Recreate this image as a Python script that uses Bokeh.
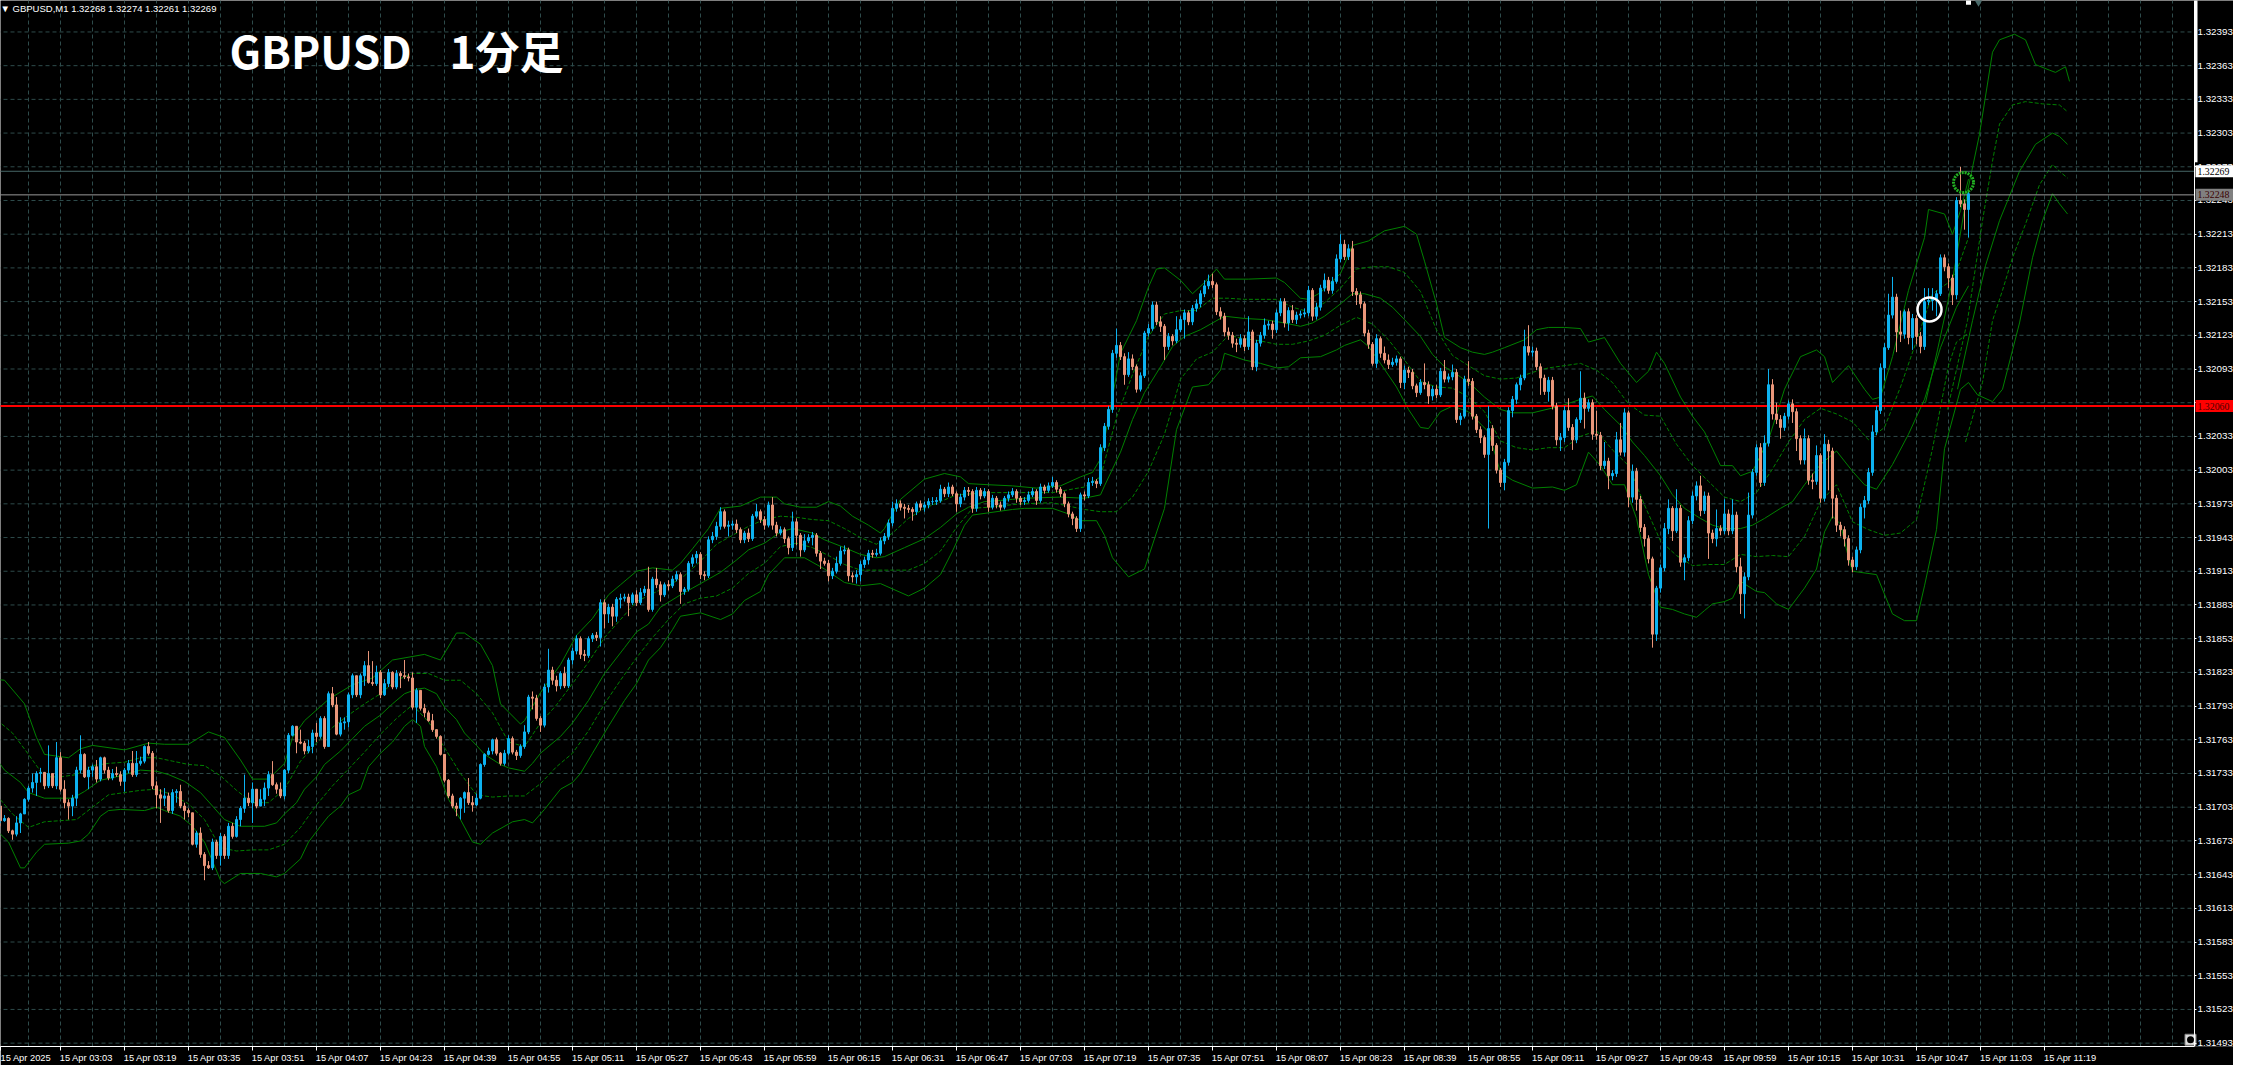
from bokeh.plotting import figure
from bokeh.models import Range1d, FixedTicker, Label, NumeralTickFormatter, ColumnDataSource, LinearAxis
from bokeh.embed import file_html
from bokeh.resources import INLINE

# ---------------- data (prices in 1e-5 units, i.e. 131704 = 1.31704) ----------------
FIRST_OPEN = 131689
CLOSES = [131704,131691,131693,131682,131679,131689,131697,131710,131720,131725,
131733,131734,131722,131733,131722,131747,131719,131707,131704,131711,
131736,131750,131730,131736,131739,131728,131747,131736,131729,131733,
131732,131726,131736,131742,131732,131742,131744,131757,131751,131722,
131714,131711,131713,131700,131716,131717,131704,131700,131698,131670,
131680,131661,131651,131649,131672,131660,131677,131660,131686,131677,
131692,131702,131711,131707,131719,131704,131710,131720,131732,131723,
131719,131713,131736,131767,131775,131761,131760,131753,131757,131769,
131766,131782,131757,131804,131794,131768,131778,131779,131803,131820,
131803,131820,131829,131814,131813,131823,131803,131813,131823,131810,
131822,131820,131819,131818,131792,131807,131791,131787,131780,131772,
131766,131750,131727,131713,131704,131702,131711,131716,131707,131705,
131711,131741,131750,131753,131763,131751,131742,131751,131764,131752,
131749,131757,131770,131801,131800,131782,131776,131810,131825,131816,
131811,131822,131811,131834,131842,131853,131839,131838,131853,131856,
131854,131885,131875,131881,131873,131888,131889,131890,131885,131892,
131885,131894,131897,131879,131906,131901,131892,131901,131900,131906,
131910,131895,131897,131920,131925,131928,131910,131909,131941,131944,
131953,131966,131953,131954,131955,131950,131941,131947,131942,131962,
131966,131959,131954,131972,131954,131947,131950,131942,131934,131957,
131945,131932,131940,131943,131945,131929,131922,131920,131909,131913,
131920,131931,131932,131909,131908,131910,131919,131923,131929,131928,
131929,131940,131944,131956,131969,131973,131970,131969,131968,131966,
131973,131970,131972,131975,131975,131976,131986,131982,131988,131982,
131973,131979,131985,131984,131969,131985,131980,131984,131970,131978,
131972,131970,131978,131981,131984,131978,131975,131976,131981,131984,
131976,131988,131985,131989,131992,131986,131982,131973,131964,131960,
131951,131981,131980,131992,131993,131991,132023,132042,132057,132107,
132114,132104,132088,132102,132095,132075,132087,132125,132129,132150,
132135,132131,132113,132122,132118,132128,132137,132143,132135,132147,
132151,132160,132167,132171,132168,132144,132140,132126,132123,132116,
132115,132120,132113,132126,132095,132116,132123,132132,132133,132128,
132143,132153,132134,132145,132137,132141,132142,132143,132163,132140,
132148,132165,132172,132163,132171,132191,132204,132193,132200,132162,
132159,132151,132125,132115,132098,132120,132107,132101,132097,132099,
132102,132081,132092,132090,132078,132072,132081,132079,132069,132075,
132070,132091,132084,132086,132090,132048,132051,132084,132082,132051,
132039,132032,132017,132040,132025,132003,131992,132010,132056,132066,
132079,132085,132113,132108,132109,132095,132085,132073,132083,132060,
132030,132032,132056,132041,132030,132048,132067,132058,132063,132035,
132034,132007,132011,131998,132000,132030,132019,132054,131979,132002,
131977,131952,131942,131924,131857,131898,131916,131951,131969,131949,
131969,131921,131925,131958,131980,131989,131967,131980,131947,131942,
131951,131949,131964,131949,131963,131917,131893,131908,131963,132001,
132023,131992,132027,132079,132053,132048,132041,132051,132062,132055,
132031,132012,132031,131994,131993,132016,131978,132026,132020,131978,
131954,131950,131942,131923,131917,131932,131970,131976,132001,132037,
132056,132094,132112,132141,132157,132126,132124,132144,132121,132138,
132122,132113,132153,132154,132155,132160,132192,132184,132174,132159,
132243,132240,132235,132249]
HIGHS = [131706,131700,131696,131694,131683,131695,131698,131711,131722,131733,
131735,131738,131734,131758,131730,131761,131752,131727,131710,131714,
131739,131767,131751,131739,131741,131745,131748,131748,131739,131737,
131739,131735,131738,131745,131753,131753,131748,131758,131761,131753,
131726,131719,131720,131716,131719,131719,131723,131707,131702,131698,
131682,131685,131663,131655,131675,131674,131680,131679,131689,131689,
131695,131704,131732,131716,131725,131718,131719,131725,131735,131744,
131725,131725,131737,131769,131776,131775,131772,131762,131763,131772,
131778,131784,131784,131806,131810,131801,131783,131783,131805,131822,
131820,131822,131833,131842,131833,131829,131825,131817,131826,131824,
131825,131824,131834,131822,131823,131809,131807,131795,131789,131786,
131772,131767,131750,131728,131715,131707,131712,131717,131729,131713,
131715,131742,131751,131756,131764,131765,131752,131754,131767,131766,
131754,131759,131776,131803,131806,131803,131784,131813,131844,131828,
131820,131824,131828,131836,131845,131856,131855,131843,131855,131858,
131859,131888,131888,131884,131884,131890,131893,131893,131893,131894,
131896,131898,131900,131917,131908,131916,131904,131903,131905,131909,
131913,131912,131899,131922,131928,131931,131930,131913,131944,131948,
131957,131970,131968,131958,131958,131959,131952,131949,131951,131964,
131973,131968,131962,131975,131979,131957,131953,131952,131944,131966,
131960,131947,131946,131946,131948,131947,131931,131925,131923,131916,
131926,131935,131936,131934,131912,131914,131922,131926,131932,131932,
131933,131943,131947,131959,131975,131977,131976,131973,131972,131970,
131975,131976,131975,131978,131979,131979,131990,131988,131992,131990,
131984,131982,131988,131988,131986,131988,131987,131987,131986,131981,
131980,131975,131980,131984,131987,131986,131980,131979,131984,131987,
131986,131991,131990,131992,131997,131994,131988,131984,131975,131966,
131962,131983,131984,131996,131997,131995,132026,132045,132060,132110,
132129,132117,132107,132108,132106,132097,132090,132127,132133,132153,
132153,132140,132133,132125,132124,132140,132140,132146,132145,132150,
132155,132163,132172,132177,132178,132170,132148,132143,132130,132126,
132120,132124,132123,132140,132128,132119,132126,132138,132136,132136,
132146,132156,132156,132148,132150,132144,132145,132147,132167,132165,
132152,132168,132178,132175,132175,132195,132213,132208,132204,132207,
132165,132162,132153,132128,132117,132124,132122,132113,132106,132103,
132105,132104,132096,132095,132093,132080,132084,132098,132082,132078,
132079,132094,132101,132089,132097,132093,132054,132087,132100,132085,
132053,132042,132034,132060,132043,132027,132005,132013,132059,132069,
132081,132088,132128,132132,132113,132112,132098,132088,132086,132086,
132063,132036,132060,132067,132044,132050,132091,132072,132066,132066,
132056,132037,132028,132014,132003,132037,132045,132058,132056,132008,
132005,131980,131955,131945,131926,131900,131919,131956,131977,131971,
131986,131972,131928,131962,131984,131993,131998,131984,131983,131950,
131968,131954,131977,131968,131977,131966,131925,131912,131983,132004,
132026,132027,132034,132093,132084,132063,132052,132054,132065,132066,
132058,132034,132040,132034,132000,132025,132018,132035,132030,132023,
131981,131957,131953,131945,131926,131935,131973,131980,132005,132043,
132060,132098,132116,132160,132175,132160,132145,132146,132147,132142,
132141,132126,132165,132165,132165,132163,132195,132195,132187,132177,
132246,132273,132244,132252]
LOWS = [131688,131686,131690,131680,131674,131677,131680,131697,131708,131716,
131713,131725,131719,131720,131720,131719,131717,131702,131692,131695,
131704,131733,131729,131719,131730,131725,131726,131733,131727,131727,
131730,131722,131717,131733,131730,131730,131740,131742,131749,131719,
131702,131689,131704,131698,131697,131707,131702,131692,131694,131669,
131667,131658,131638,131648,131647,131657,131651,131657,131657,131675,
131676,131686,131698,131704,131689,131702,131704,131704,131713,131722,
131715,131711,131710,131733,131766,131751,131759,131750,131751,131751,
131761,131764,131755,131757,131792,131767,131766,131772,131774,131800,
131801,131800,131811,131813,131811,131811,131800,131802,131810,131808,
131808,131809,131817,131815,131790,131778,131789,131783,131779,131770,
131764,131749,131725,131711,131702,131695,131692,131698,131705,131699,
131704,131710,131739,131749,131750,131749,131740,131740,131749,131750,
131745,131747,131755,131768,131790,131780,131770,131774,131805,131812,
131806,131808,131809,131809,131830,131839,131835,131833,131836,131850,
131851,131846,131862,131867,131864,131868,131880,131886,131873,131883,
131882,131883,131891,131877,131877,131898,131886,131890,131896,131898,
131904,131884,131892,131895,131917,131920,131906,131905,131907,131938,
131941,131950,131951,131944,131950,131947,131938,131938,131939,131940,
131960,131956,131950,131952,131950,131944,131945,131938,131928,131931,
131936,131926,131930,131938,131936,131926,131915,131918,131904,131906,
131911,131918,131928,131904,131903,131902,131904,131916,131919,131925,
131926,131927,131937,131941,131953,131966,131967,131960,131965,131958,
131963,131967,131966,131969,131972,131972,131974,131979,131979,131980,
131966,131970,131976,131980,131965,131966,131977,131978,131966,131968,
131969,131967,131968,131975,131979,131974,131972,131972,131974,131979,
131972,131974,131982,131983,131987,131983,131979,131970,131961,131954,
131948,131948,131976,131978,131989,131987,131989,132020,132039,132054,
132103,132101,132079,132086,132092,132072,132073,132085,132122,132127,
132132,132126,132101,132110,132114,132116,132126,132120,132132,132132,
132144,132148,132157,132164,132165,132141,132137,132122,132119,132112,
132108,132112,132109,132110,132092,132091,132113,132120,132128,132120,
132125,132140,132130,132127,132134,132133,132138,132139,132140,132136,
132137,132145,132162,132160,132160,132169,132188,132190,132190,132158,
132150,132147,132122,132111,132096,132094,132103,132098,132093,132095,
132096,132076,132075,132085,132075,132068,132070,132075,132062,132065,
132067,132068,132081,132081,132083,132045,132043,132049,132078,132048,
132036,132027,132014,131951,132020,132000,131988,131985,132007,132050,
132062,132074,132083,132105,132104,132092,132070,132070,132064,132057,
132025,132020,132028,132038,132021,132027,132045,132040,132055,132030,
132030,132003,132004,131986,131994,131997,132016,132015,131970,131974,
131967,131948,131935,131920,131845,131851,131894,131913,131946,131940,
131947,131917,131905,131922,131955,131976,131962,131964,131924,131938,
131935,131945,131946,131945,131946,131912,131875,131871,131905,131960,
131998,131988,131989,132024,132048,132044,132031,132038,132048,132045,
132020,132008,132008,131990,131986,131990,131974,131975,131985,131960,
131948,131944,131935,131918,131912,131914,131929,131960,131973,131998,
132034,132053,132083,132110,132138,132108,132117,132120,132115,132110,
132115,132107,132110,132150,132145,132140,132158,132180,132165,132150,
132155,132237,132217,132210]

# Bollinger band lines: (bar index list, price list in 1e-5)
UP2_X = [-1,2,7,10,12,18,21,24,32,38,42,48,53,57,61,64,68,72,74,77,83,89,94,99,107,111,115,117,121,124,126,131,132,136,141,145,149,153,156,160,164,169,171,174,178,181,186,191,195,197,201,205,208,211,214,218,221,222,226,232,237,241,243,248,254,260,266,271,274,276,277,281,285,288,290,292,296,299,302,305,307,313,320,322,326,328,331,336,339,343,347,352,355,357,360,362,366,369,372,374,377,382,385,388,392,396,398,402,406,410,413,415,417,421,424,427,431,434,436,439,443,447,451,455,457,459,463,467,469,471,474,478,482,483,487,489,491,493]
UP2_Y = [131817,131816,131795,131765,131750,131747,131755,131758,131754,131760,131759,131759,131770,131765,131745,131728,131728,131742,131765,131780,131799,131812,131818,131834,131839,131834,131858,131858,131848,131829,131795,131777,131780,131805,131830,131856,131871,131892,131901,131913,131916,131914,131920,131933,131951,131969,131971,131979,131979,131973,131970,131970,131975,131971,131962,131954,131947,131951,131977,131995,132000,131997,131991,131990,131989,131987,131989,131997,132001,132013,132030,132107,132136,132166,132182,132183,132172,132160,132170,132182,132173,132173,132174,132170,132156,132155,132161,132178,132203,132207,132216,132220,132213,132189,132151,132121,132112,132108,132106,132108,132112,132119,132128,132130,132130,132129,132117,132121,132098,132081,132091,132108,132098,132068,132051,132037,132007,132007,131998,132002,132030,132075,132104,132110,132104,132081,132096,132075,132066,132068,132104,132163,132210,132235,132231,132213,132234,132262]
MID_X = [-1,2,6,8,12,16,19,22,24,26,30,33,36,40,43,47,51,54,57,61,64,67,70,72,75,77,80,82,86,89,92,96,99,102,105,107,110,112,115,117,120,122,126,128,132,134,136,141,144,148,152,157,160,163,166,171,174,177,181,185,188,192,196,199,204,207,212,216,220,222,227,232,236,240,243,247,251,254,257,266,272,276,277,281,284,287,291,294,297,301,304,307,312,317,322,326,329,332,336,339,342,346,349,352,356,359,362,366,369,372,376,379,384,391,396,399,402,406,409,412,416,419,422,426,429,432,436,439,442,446,449,452,456,460,464,467,470,474,478,482,486,490,493]
MID_Y = [131751,131736,131725,131716,131711,131711,131711,131717,131722,131727,131730,131733,131736,131735,131732,131726,131716,131704,131692,131686,131686,131686,131689,131697,131707,131719,131730,131741,131753,131764,131775,131785,131795,131804,131808,131809,131804,131792,131781,131769,131758,131750,131741,131738,131735,131742,131751,131766,131778,131798,131822,131845,131859,131866,131881,131892,131898,131904,131912,131923,131932,131938,131948,131951,131947,131941,131934,131928,131925,131926,131934,131942,131952,131964,131970,131975,131976,131977,131978,131979,131978,131981,131989,132019,132048,132072,132095,132113,132122,132128,132134,132140,132138,132137,132134,132131,132134,132140,132151,132160,132160,132156,132148,132137,132122,132106,132095,132086,132078,132068,132057,132054,132054,132060,132066,132069,132057,132043,132028,132016,131998,131981,131969,131960,131954,131951,131951,131954,131960,131969,131975,131990,132008,132020,132002,131990,131986,132008,132035,132066,132112,132148,132167]
LO2_X = [-1,3,6,7,10,12,18,21,23,26,28,31,37,40,42,46,49,52,56,57,61,66,70,72,76,78,81,83,86,88,91,93,96,99,102,104,106,107,110,113,116,119,121,124,129,132,134,137,141,144,146,149,153,157,160,163,166,169,171,176,181,184,187,191,193,197,202,207,212,216,221,228,232,236,239,242,244,254,257,264,268,271,275,277,279,283,287,292,295,299,303,306,307,312,316,320,323,326,331,335,337,341,343,346,350,353,356,358,361,364,368,373,376,379,384,389,392,395,398,401,404,407,410,413,416,419,422,425,427,429,432,434,436,440,442,445,448,452,455,457,459,461,463,464,470,474,477,480,482,485,487,491,493]
LO2_Y = [131686,131672,131649,131649,131663,131670,131671,131673,131679,131695,131700,131701,131700,131703,131700,131695,131686,131672,131638,131635,131644,131644,131641,131644,131657,131672,131686,131695,131704,131714,131719,131739,131751,131761,131775,131781,131775,131757,131739,131710,131692,131672,131670,131680,131690,131692,131689,131701,131719,131725,131733,131751,131775,131798,131813,131834,131845,131861,131873,131876,131870,131875,131887,131895,131910,131925,131925,131915,131903,131900,131902,131891,131898,131910,131931,131954,131963,131968,131969,131969,131964,131958,131958,131945,131925,131908,131915,131969,132039,132077,132079,132092,132107,132101,132098,132094,132095,132103,132104,132110,132114,132119,132113,132098,132077,132057,132041,132040,132055,132060,132055,132037,132001,131994,131987,131988,131985,131990,132019,132007,131990,131990,131960,131910,131881,131879,131875,131872,131878,131884,131886,131889,131904,131895,131894,131884,131879,131898,131915,131948,131962,131955,131925,131913,131910,131875,131869,131869,131900,131950,132022,132075,132081]
S1_X = [-1,4,8,12,16,20,24,28,32,36,40,44,48,52,56,60,64,68,72,76,80,84,88,92,96,100,104,108,112,116,120,124,128,132,136,140,144,148,152,156,160,164,168,172,176,180,184,188,192,196,200,204,208,212,216,220,224,228,232,236,240,244,248,256,264,272,276,280,284,288,292,296,300,304,308,312,316,320,324,328,332,336,340,344,348,352,356,360,364,368,372,376,380,384,388,392,396,400,404,408,412,416,420,424,428,432,436,440,444,448,452,456,460,464,468,472,476,480,484,488,490,493]
UP1_Y = [131784,131769,131750,131730,131730,131732,131740,131742,131743,131747,131747,131744,131741,131740,131731,131718,131707,131707,131719,131744,131760,131774,131785,131795,131804,131816,131822,131822,131816,131816,131804,131787,131761,131757,131778,131794,131813,131832,131854,131870,131886,131893,131900,131909,131922,131937,131945,131953,131959,131962,131961,131959,131958,131951,131943,131937,131947,131960,131969,131975,131981,131982,131983,131983,131983,131988,131997,132050,132088,132122,132142,132145,132145,132156,132156,132155,132155,132155,132148,132144,132152,132165,132182,132184,132184,132179,132162,132128,132105,132096,132087,132084,132085,132090,132094,132096,132098,132092,132081,132062,132052,132051,132026,132007,131993,131979,131975,131983,132004,132028,132048,132058,132053,132046,132030,132041,132077,132118,132160,132170,132180,132210]
LO1_Y = [131718,131697,131685,131690,131691,131692,131703,131714,131716,131718,131719,131714,131706,131692,131667,131664,131665,131665,131670,131685,131705,131722,131737,131752,131768,131782,131794,131779,131756,131733,131714,131712,131713,131713,131724,131739,131751,131771,131795,131816,131836,131854,131870,131884,131889,131891,131898,131911,131920,131935,131938,131934,131927,131919,131914,131914,131914,131914,131920,131931,131952,131969,131970,131973,131974,131968,131966,131966,131979,132002,132035,132084,132102,132108,132123,132120,132118,132115,132115,132118,132123,132132,132139,132133,132119,132101,132082,132077,132076,132068,132055,132029,132023,132021,132023,132023,132033,132038,132021,132007,131972,131940,131927,131918,131919,131919,131928,131926,131927,131926,131944,131975,131990,131957,131950,131945,131947,131959,132022,132096,132117,132125]

# lines that run on past the last bar at the right edge
R2U_X = [482.25,485.25,489,492.75,495.75,499,500.75,504.5,507.25,509.75,513.25,514.75,517.25,518.25]
R2U_Y = [132063,132110,132172,132251,132302,132375,132386,132391,132386,132364,132359,132357,132362,132349]
R1U_X = [487.75,492.75,496.5,499,500.75,504,507.25,511.5,515.75,517.75]
R1U_Y = [132057,132136,132225,132278,132311,132328,132331,132329,132328,132322]
R0_X = [490.25,494,497.25,500.75,505.75,509.75,514,515.75,517.75]
R0_Y = [132075,132136,132185,132225,132269,132293,132303,132300,132293]
R1L_X = [492.25,496.5,499,501.5,504,507.25,510.75,514,515.75,517.75]
R1L_Y = [132028,132081,132136,132163,132192,132222,132257,132275,132269,132263]
R2L_X = [493,495.25,499,501.5,505.75,509,511.5,514,515.75,517.75]
R2L_Y = [132081,132070,132064,132075,132134,132192,132225,132249,132240,132231]

TIME_TICK_POS = [1,16,32,48,64,80,96,112,128,144,160,176,192,208,224,240,256,272,288,304,320,336,352,368,384,400,416,432,448,464,480,496,512]
TIME_LABELS = ["15 Apr 2025","15 Apr 03:03","15 Apr 03:19","15 Apr 03:35","15 Apr 03:51","15 Apr 04:07","15 Apr 04:23","15 Apr 04:39","15 Apr 04:55","15 Apr 05:11","15 Apr 05:27","15 Apr 05:43","15 Apr 05:59","15 Apr 06:15","15 Apr 06:31","15 Apr 06:47","15 Apr 07:03","15 Apr 07:19","15 Apr 07:35","15 Apr 07:51","15 Apr 08:07","15 Apr 08:23","15 Apr 08:39","15 Apr 08:55","15 Apr 09:11","15 Apr 09:27","15 Apr 09:43","15 Apr 09:59","15 Apr 10:15","15 Apr 10:31","15 Apr 10:47","15 Apr 11:03","15 Apr 11:19"]
PRICE_TICKS = [1.31493,1.31523,1.31553,1.31583,1.31613,1.31643,1.31673,1.31703,1.31733,1.31763,1.31793,1.31823,1.31853,1.31883,1.31913,1.31943,1.31973,1.32003,1.32033,1.32063,1.32093,1.32123,1.32153,1.32183,1.32213,1.32243,1.32273,1.32303,1.32333,1.32363,1.32393]

RED_LEVEL = 1.32060
BID_LEVEL = 1.32269
GREY_LEVEL = 1.32248
HEADER = "\u25BC GBPUSD,M1  1.32268 1.32274 1.32261 1.32269"
TITLE_A = "GBPUSD"
TITLE_B = "1\u5206\u8db3"
WHITE_CIRCLE = (483.25, 1.32146)
GREEN_CIRCLE = (491.75, 1.32259)

# ---------------- build ----------------
SC = 1e-5
AX = 549.5            # position of the price scale line (bar units)
n = len(CLOSES)
opens = [FIRST_OPEN] + CLOSES[:-1]
xs = list(range(n))
o = [v * SC for v in opens]
c = [v * SC for v in CLOSES]
h = [v * SC for v in HIGHS]
l = [v * SC for v in LOWS]
BULL = "#0DB2F0"
BEAR = "#E9967A"
col = [BULL if cc >= oo else BEAR for oo, cc in zip(o, c)]
src = ColumnDataSource(dict(x=xs, top=[max(a, b) for a, b in zip(o, c)],
                            bottom=[min(a, b) for a, b in zip(o, c)],
                            hi=h, lo=l, color=col))

YTOP, YBOT = 1.32421, 1.31490
p = figure(width=2233, frame_height=1046,
           x_range=Range1d(1, 559.25), y_range=Range1d(YBOT, YTOP),
           output_backend="svg", toolbar_location=None,
           y_axis_location=None,
           background_fill_color="black", border_fill_color="black",
           min_border_left=0, min_border_top=0, min_border_right=0, min_border_bottom=0)
p.outline_line_color = None

GRID = "#2E4B4B"
p.ygrid.visible = False
p.xgrid.ticker = FixedTicker(ticks=list(range(0, 548, 8)))
p.xgrid.grid_line_color = GRID
p.xgrid.grid_line_dash = "4 3"
# horizontal grid lines stop at the price scale
p.segment(x0=[0] * len(PRICE_TICKS), y0=PRICE_TICKS, x1=[AX] * len(PRICE_TICKS), y1=PRICE_TICKS,
          line_color=GRID, line_width=1, line_dash="4 3")

# price scale (inside the frame at a fixed location)
ya = LinearAxis(fixed_location=AX, ticker=FixedTicker(ticks=PRICE_TICKS),
                formatter=NumeralTickFormatter(format="0.00000"))
ya.axis_line_color = "white"
ya.major_tick_line_color = "white"
ya.major_tick_out = 2
ya.major_tick_in = 0
ya.minor_tick_line_color = None
ya.major_label_standoff = 1
ya.major_label_text_color = "white"
ya.major_label_text_font = "Liberation Sans"
ya.major_label_text_font_size = "9.8px"
p.add_layout(ya, "right")

# time scale: labels start at their tick (MT4 style), so pad them on the left;
# the first one sits at the left edge and is left as it is
PAD = "\u00A0" * 20
xa = p.xaxis[0]
xa.ticker = FixedTicker(ticks=TIME_TICK_POS)
xa.major_label_overrides = {t: (s if k == 0 else PAD + s)
                            for k, (t, s) in enumerate(zip(TIME_TICK_POS, TIME_LABELS))}
xa.bounds = (0, AX)
xa.axis_line_color = "white"
xa.major_tick_line_color = "white"
xa.major_tick_out = 4
xa.major_tick_in = 0
xa.minor_tick_line_color = None
xa.major_label_standoff = 2
xa.major_label_text_color = "white"
xa.major_label_text_font = "Liberation Sans"
xa.major_label_text_font_size = "9.3px"

# Bollinger bands (solid +-2 sigma and middle, dashed +-1 sigma)
BB = "#008000"
p.line(UP2_X, [v * SC for v in UP2_Y], line_color=BB, line_width=1)
p.line(MID_X, [v * SC for v in MID_Y], line_color=BB, line_width=1)
p.line(LO2_X, [v * SC for v in LO2_Y], line_color=BB, line_width=1)
p.line(S1_X, [v * SC for v in UP1_Y], line_color=BB, line_width=1, line_dash="4 2")
p.line(S1_X, [v * SC for v in LO1_Y], line_color=BB, line_width=1, line_dash="4 2")
p.line(R2U_X, [v * SC for v in R2U_Y], line_color=BB, line_width=1)
p.line(R0_X, [v * SC for v in R0_Y], line_color=BB, line_width=1)
p.line(R2L_X, [v * SC for v in R2L_Y], line_color=BB, line_width=1)
p.line(R1U_X, [v * SC for v in R1U_Y], line_color=BB, line_width=1, line_dash="4 2")
p.line(R1L_X, [v * SC for v in R1L_Y], line_color=BB, line_width=1, line_dash="4 2")

# horizontal price levels (stop at the scale)
p.segment(x0=[0], y0=[BID_LEVEL], x1=[AX], y1=[BID_LEVEL], line_color="#466666", line_width=1)
p.segment(x0=[0], y0=[GREY_LEVEL], x1=[AX], y1=[GREY_LEVEL], line_color="#9A9A9A", line_width=1)
p.segment(x0=[0], y0=[RED_LEVEL], x1=[AX], y1=[RED_LEVEL], line_color="#FF0000", line_width=2)

# candles
p.segment(x0="x", y0="lo", x1="x", y1="hi", source=src, line_color="color", line_width=1)
p.vbar(x="x", width=0.5, top="top", bottom="bottom", source=src,
       fill_color="color", line_color="color", line_width=1)

# marks
p.scatter([WHITE_CIRCLE[0]], [WHITE_CIRCLE[1]], marker="circle", size=24,
          fill_color=None, line_color="white", line_width=2.5)
p.scatter([GREEN_CIRCLE[0]], [GREEN_CIRCLE[1]], marker="circle", size=20,
          fill_color=None, line_color="#22B022", line_width=3, line_dash="2 1")
p.scatter([493], [YTOP - 0.000015], marker="square", size=5, fill_color="white", line_color=None)
p.scatter([495.5], [YTOP - 0.000015], marker="inverted_triangle", size=8, fill_color="#4A6A6A", line_color=None)
p.scatter([548.5], [YBOT + 0.00006], marker="square", size=11, fill_color="#DDDDDD", line_color="#888888")
p.scatter([548.5], [YBOT + 0.00006], marker="circle", size=7, fill_color="black", line_color=None)

# top part of the scale bar
bar = p.quad(left=[AX], right=[AX + 0.75], top=[YTOP], bottom=[1.32277], fill_color="white", line_color=None)
bar.level = "overlay"

# texts
p.add_layout(Label(x=1.0, y=1.324139, text=HEADER, text_color="white",
                   text_font="Liberation Sans", text_font_size="9.5px",
                   text_baseline="middle"))
p.add_layout(Label(x=58.25, y=1.32377, text=TITLE_A, text_color="white",
                   text_font="Noto Sans CJK JP", text_font_style="bold",
                   text_font_size="44px", text_baseline="middle"))
p.add_layout(Label(x=113.25, y=1.32377, text=TITLE_B, text_color="white",
                   text_font="Noto Sans CJK JP", text_font_style="bold",
                   text_font_size="44px", text_baseline="middle"))

# price boxes on the scale
BOX_LEVELS = [RED_LEVEL, BID_LEVEL, GREY_LEVEL]
BOX_BG = ["#FF0000", "#FFFFFF", "#808080"]
BOX_FG = ["#4A0000", "#000000", "#3A0000"]
r1 = p.rect(x=[554.5] * 3, y=BOX_LEVELS, width=38, height=12, width_units="screen",
            height_units="screen", fill_color=BOX_BG, line_color=None)
r1.level = "overlay"
r2 = p.text(x=[550.25] * 3, y=BOX_LEVELS, text=["%.5f" % v for v in BOX_LEVELS],
            text_color=BOX_FG, text_font_size="9.8px", text_baseline="middle",
            text_font="Liberation Sans")
r2.level = "overlay"

open("out.html", "w").write(file_html(p, INLINE))
